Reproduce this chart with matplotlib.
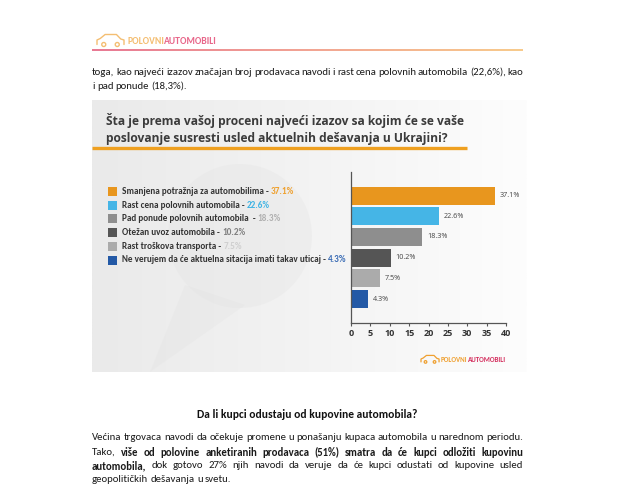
#! /usr/bin/env python3

import matplotlib
matplotlib.use("Agg")
import matplotlib.pyplot as plt
import numpy as np
from matplotlib import font_manager
from matplotlib.colors import LinearSegmentedColormap
from matplotlib.patches import Rectangle, Circle, Polygon

# chart data
categories = [
    "Smanjena potražnja za automobilima",
    "Rast cena polovnih automobila",
    "Pad ponude polovnih automobila ",
    "Otežan uvoz automobila",
    "Rast troškova transporta",
    "Ne verujem da će aktuelna sitacija imati takav uticaj",
]
shares = [37.1, 22.6, 18.3, 10.2, 7.5, 4.3]
bar_colors = ["#E8961E", "#45B5E6", "#8E8E8E", "#555555", "#ABABAB", "#2359A6"]
pct_colors = ["#EFA02D", "#41B4E4", "#B0B0B0", "#808080", "#CFCFCF", "#3A6CB5"]
x_ticks = [0, 5, 10, 15, 20, 25, 30, 35, 40]

title_lines = [
    "Šta je prema vašoj proceni najveći izazov sa kojim će se vaše",
    "poslovanje susresti usled aktuelnih dešavanja u Ukrajini?",
]
top_text = [
    [("toga, kao najveći izazov značajan broj prodavaca navodi i rast cena polovnih automobila (22,6%), kao", False)],
    [("i pad ponude (18,3%).", False)],
]
heading = "Da li kupci odustaju od kupovine automobila?"
bottom_text = [
    [("Većina trgovaca navodi da očekuje promene u ponašanju kupaca automobila u narednom periodu.", False)],
    [("Tako,", False), ("više od polovine anketiranih prodavaca (51%) smatra da će kupci odložiti kupovinu", True)],
    [("automobila,", True), ("dok gotovo 27% njih navodi da veruje da će kupci odustati od kupovine usled", False)],
    [("geopolitičkih dešavanja u svetu.", False)],
]

installed = {f.name for f in font_manager.fontManager.ttflist}
NARROW = "Carlito" if "Carlito" in installed else "Roboto"
BODY_FONT = NARROW
CHART_FONT = "Open Sans"
LEGEND_FONT = NARROW
LOGO_FONT = NARROW

fig = plt.figure(figsize=(6.4, 5.0), dpi=100)
fig.patch.set_facecolor("white")

# page axes in pixel units
page = fig.add_axes([0, 0, 1, 1])
page.set_xlim(0, 640)
page.set_ylim(500, 0)
page.axis("off")

fig.canvas.draw()
renderer = fig.canvas.get_renderer()


def width_of(s, **kw):
    t = page.text(0, 0, s, **kw)
    w = t.get_window_extent(renderer).width
    t.remove()
    return w


def fit_size(s, target, **kw):
    return 10 * target / width_of(s, size=10, **kw)


def text_line(y, parts, x0, x1=None, size=8, family=BODY_FONT, color="#1A1A1A"):
    words = []
    for txt, bold in parts:
        for w in txt.split():
            words.append((w, bold))
    widths = [width_of(w, size=size, family=family, weight="bold" if b else "normal")
              for w, b in words]
    space = width_of("a a", size=size, family=family) - width_of("aa", size=size, family=family)
    if x1 is not None and len(words) > 1:
        gap = (x1 - x0 - sum(widths)) / (len(words) - 1)
    else:
        gap = space
    x = x0
    for (w, b), wd in zip(words, widths):
        page.text(x, y, w, size=size, family=family, color=color,
                  weight="bold" if b else "normal", va="center", ha="left")
        x += wd + gap


def draw_logo(x, y, h, text_x, text_w, c1, c2, lw):
    # small car outline
    w = text_x - x - h * 0.3
    pts = [(x, y + h * 0.45), (x, y), (x + w * 0.12, y - h * 0.15), (x + w * 0.3, y - h * 0.55),
           (x + w * 0.72, y - h * 0.55), (x + w * 0.88, y - h * 0.1), (x + w, y), (x + w, y + h * 0.45)]
    page.plot(*zip(*pts), color=c1, lw=lw, solid_capstyle="round")
    for cx in (x + w * 0.25, x + w * 0.75):
        page.add_patch(Circle((cx, y + h * 0.45), h * 0.2, fill=False, ec=c1, lw=lw))
    size = fit_size("POLOVNIAUTOMOBILI", text_w, family=LOGO_FONT, weight="bold")
    page.text(text_x, y + h * 0.1, "POLOVNI", size=size, family=LOGO_FONT, weight="bold",
              color=c1, va="center", ha="left")
    tx = text_x + width_of("POLOVNI", size=size, family=LOGO_FONT, weight="bold")
    page.text(tx, y + h * 0.1, "AUTOMOBILI", size=size, family=LOGO_FONT, weight="bold",
              color=c2, va="center", ha="left")


# ---- header ----
draw_logo(97, 40, 10, 127, 90, "#F4BE72", "#E8678A", 1.0)
header_cmap = LinearSegmentedColormap.from_list("hdr", ["#E87A95", "#F2A493", "#F8CB8C"])
page.imshow(np.linspace(0, 1, 200)[None, :], cmap=header_cmap, aspect="auto",
            extent=[92, 523, 51.5, 49.5], zorder=1)

body_size = fit_size(bottom_text[0][0][0], 431, family=BODY_FONT)
text_line(72.5, top_text[0], 92, 523, size=body_size)
text_line(86.5, top_text[1], 92, size=body_size)

# ---- chart image region ----
bg_cmap = LinearSegmentedColormap.from_list("bg", ["#EAEAEA", "#F3F3F3", "#FDFDFD"])
page.imshow(np.linspace(0, 1, 200)[None, :], cmap=bg_cmap, aspect="auto",
            extent=[92, 527, 372, 100], zorder=0)
# faint watermark
page.add_patch(Circle((240, 236), 72, color="#E2E2E2", alpha=0.3, lw=0, zorder=0.5))
page.add_patch(Polygon([(185, 285), (245, 305), (150, 372)], closed=True,
                       color="#E2E2E2", alpha=0.3, lw=0, zorder=0.5))

title_size = fit_size(title_lines[0], 360, family=CHART_FONT, weight="bold")
page.text(106, 120.5, title_lines[0], size=title_size, family=CHART_FONT, weight="bold",
          color="#3B3B3B", va="center", ha="left")
page.text(106, 138.5, title_lines[1], size=title_size, family=CHART_FONT, weight="bold",
          color="#3B3B3B", va="center", ha="left")
page.plot([92, 467], [148.3, 148.3], color="#EFA020", lw=2.4, solid_capstyle="butt")

# legend rows
first_row = f"{categories[0]} - {shares[0]}%"
leg_size = fit_size(first_row, 170, family=LEGEND_FONT, weight="bold")
for i, (cat, val) in enumerate(zip(categories, shares)):
    y = 191.5 + 13.7 * i
    page.add_patch(Rectangle((108, y - 4.5), 9, 9, color=bar_colors[i], lw=0))
    lab = f"{cat} - "
    page.text(122, y, lab, size=leg_size, family=LEGEND_FONT, weight="bold",
              color="#333333", va="center", ha="left")
    xx = 122 + width_of(lab, size=leg_size, family=LEGEND_FONT, weight="bold")
    page.text(xx, y, f"{val}%", size=leg_size, family=LEGEND_FONT, weight="bold",
              color=pct_colors[i], va="center", ha="left")

# chart logo at bottom right
draw_logo(421, 359, 6.5, 441, 66, "#EFA030", "#D42F5E", 0.9)

# ---- bar chart ----
bx = fig.add_axes([351 / 640, 1 - 323 / 500, 155 / 640, 151 / 500])
bx.patch.set_alpha(0)
ypos = np.arange(len(shares))
bx.barh(ypos, shares, height=0.87, color=bar_colors)
bx.set_xlim(0, 40)
bx.set_ylim(len(shares) - 1 + 1.16, -1.14)
bx.set_yticks([])
bx.set_xticks(x_ticks)
bx.set_xticklabels([str(t) for t in x_ticks], family=CHART_FONT, weight="bold",
                   size=6.5, color="#333333")
bx.tick_params(axis="x", length=2.5, width=0.8, color="#555555", pad=1.5)
for s in ("top", "right"):
    bx.spines[s].set_visible(False)
for s in ("left", "bottom"):
    bx.spines[s].set_color("#555555")
    bx.spines[s].set_linewidth(0.9)
for y, v in zip(ypos, shares):
    bx.annotate(f"{v}%", (v, y), xytext=(3.6, 0), textcoords="offset points",
                va="center", ha="left", size=5.2, family=CHART_FONT, color="#444444")

# ---- text below ----
head_size = fit_size(heading, 218, family=BODY_FONT, weight="bold")
page.text(307, 414, heading, size=head_size, family=BODY_FONT, weight="bold",
          color="#111111", va="center", ha="center")
line_y = [438, 452, 466, 480]
for i, parts in enumerate(bottom_text):
    x1 = 523 if i < 3 else None
    text_line(line_y[i], parts, 92, x1, size=body_size)

plt.savefig("out.png", dpi=100)
